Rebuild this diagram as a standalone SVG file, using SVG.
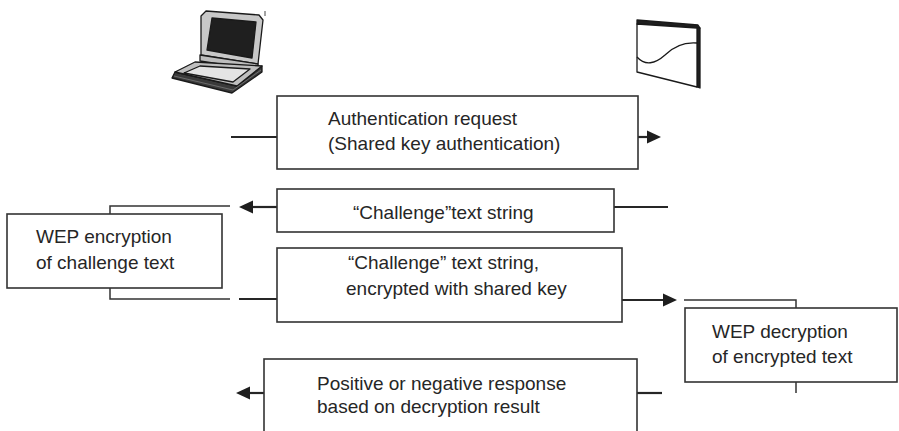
<svg xmlns="http://www.w3.org/2000/svg" width="899" height="431" viewBox="0 0 899 431">
  <style>
    .box { fill: #fff; stroke: #333; stroke-width: 1.6; }
    .lbl { font-family: "Liberation Sans Narrow", "Liberation Sans", Arial, sans-serif; font-size: 19px; fill: #262626; }
    .wire { stroke: #262626; stroke-width: 2.2; fill: none; }
    .thin { stroke: #333; stroke-width: 1.5; fill: none; }
    .head { fill: #1e1e1e; }
  </style>
  <defs>
    <!-- filled triangular arrowhead, tip at origin pointing right -->
    <path id="tipR" class="head" d="M0,0 L-14,-6.5 L-14,6.5 Z"/>
  </defs>

  <rect width="899" height="431" fill="#fff"/>

  <!-- laptop (client station) -->
  <g id="laptop" stroke="#1a1a1a" stroke-width="1.3" stroke-linejoin="round">
    <path d="M206,11 L259,15 L263,20 L258,64 L201,55 L201,16 Z" fill="#c8c8c8"/>
    <path d="M212,18 L256,22 L252,58 L207,50 Z" fill="#1f1f1f"/>
    <path d="M200,55 L258,64 L258,70 L200,61 Z" fill="#bdbdbd"/>
    <path d="M175,72 L172,78 L232,93 L262,72 L262,66 L237,86 Z" fill="#3a3a3a"/>
    <path d="M175,72 L195,62 L262,66 L237,86 Z" fill="#bfbfbf"/>
    <path d="M184,73 L200,66 L250,69 L233,82 Z" fill="#e4e4e4"/>
    <path d="M174,76 L233,90 L261,70" fill="none" stroke="#777" stroke-width="0.8"/>
    <line x1="265" y1="11" x2="265" y2="16" stroke-width="0.8"/>
  </g>

  <!-- access point -->
  <g id="access-point" stroke="#1a1a1a" stroke-width="1.3" stroke-linejoin="round">
    <path d="M637,20 L698,25 L700,28 L637,24 Z" fill="#1f1f1f"/>
    <path d="M697,27 L700,28 L700,88 L697,87 Z" fill="#1f1f1f"/>
    <path d="M637,24 L697,28 L697,87 L637,72 Z" fill="#fff"/>
    <path d="M637,57 C645,66 655,64 665,55 C675,45 685,42 697,43" fill="none"/>
  </g>

  <!-- message connectors -->
  <g id="connectors">
    <!-- authentication request -->
    <line class="wire" x1="231" y1="137" x2="277" y2="137"/>
    <line class="wire" x1="638" y1="137" x2="650" y2="137"/>
    <use href="#tipR" transform="translate(661,137)"/>
    <!-- challenge text -->
    <line class="wire" x1="614" y1="207" x2="668" y2="207"/>
    <line class="wire" x1="250" y1="207" x2="277" y2="207"/>
    <use href="#tipR" transform="translate(239,207) rotate(180)"/>
    <!-- encrypted challenge -->
    <line class="wire" x1="239" y1="299" x2="277" y2="299" stroke-width="3"/>
    <line class="wire" x1="622" y1="300" x2="665" y2="300"/>
    <use href="#tipR" transform="translate(677,300)"/>
    <!-- response -->
    <line class="wire" x1="637" y1="393" x2="662" y2="393"/>
    <line class="wire" x1="248" y1="393" x2="264" y2="393"/>
    <use href="#tipR" transform="translate(236,393) rotate(180)"/>
    <!-- local processing brackets -->
    <path class="thin" d="M230,206 H110 V214"/>
    <path class="thin" d="M110,288 V299 H230"/>
    <path class="thin" d="M684,300 H796 V308"/>
    <path class="thin" d="M796,382 V393"/>
  </g>

  <g id="auth-request">
    <rect class="box" x="277" y="96" width="361" height="73"/>
    <text class="lbl" x="328" y="125">Authentication request</text>
    <text class="lbl" x="328" y="150">(Shared key authentication)</text>
  </g>

  <g id="challenge">
    <rect class="box" x="277" y="189" width="337" height="43"/>
    <text class="lbl" x="353" y="219">“Challenge”text string</text>
  </g>

  <g id="wep-encryption">
    <rect class="box" x="7" y="214" width="215" height="74"/>
    <text class="lbl" x="36" y="243">WEP encryption</text>
    <text class="lbl" x="36" y="269">of challenge text</text>
  </g>

  <g id="encrypted-challenge">
    <rect class="box" x="277" y="248" width="345" height="74"/>
    <text class="lbl" x="348" y="269">“Challenge” text string,</text>
    <text class="lbl" x="346" y="295">encrypted with shared key</text>
  </g>

  <g id="wep-decryption">
    <rect class="box" x="685" y="308" width="212" height="74"/>
    <text class="lbl" x="712" y="338">WEP decryption</text>
    <text class="lbl" x="712" y="363">of encrypted text</text>
  </g>

  <g id="response">
    <rect class="box" x="264" y="359" width="373" height="90"/>
    <text class="lbl" x="317" y="390">Positive or negative response</text>
    <text class="lbl" x="317" y="413">based on decryption result</text>
  </g>
</svg>
